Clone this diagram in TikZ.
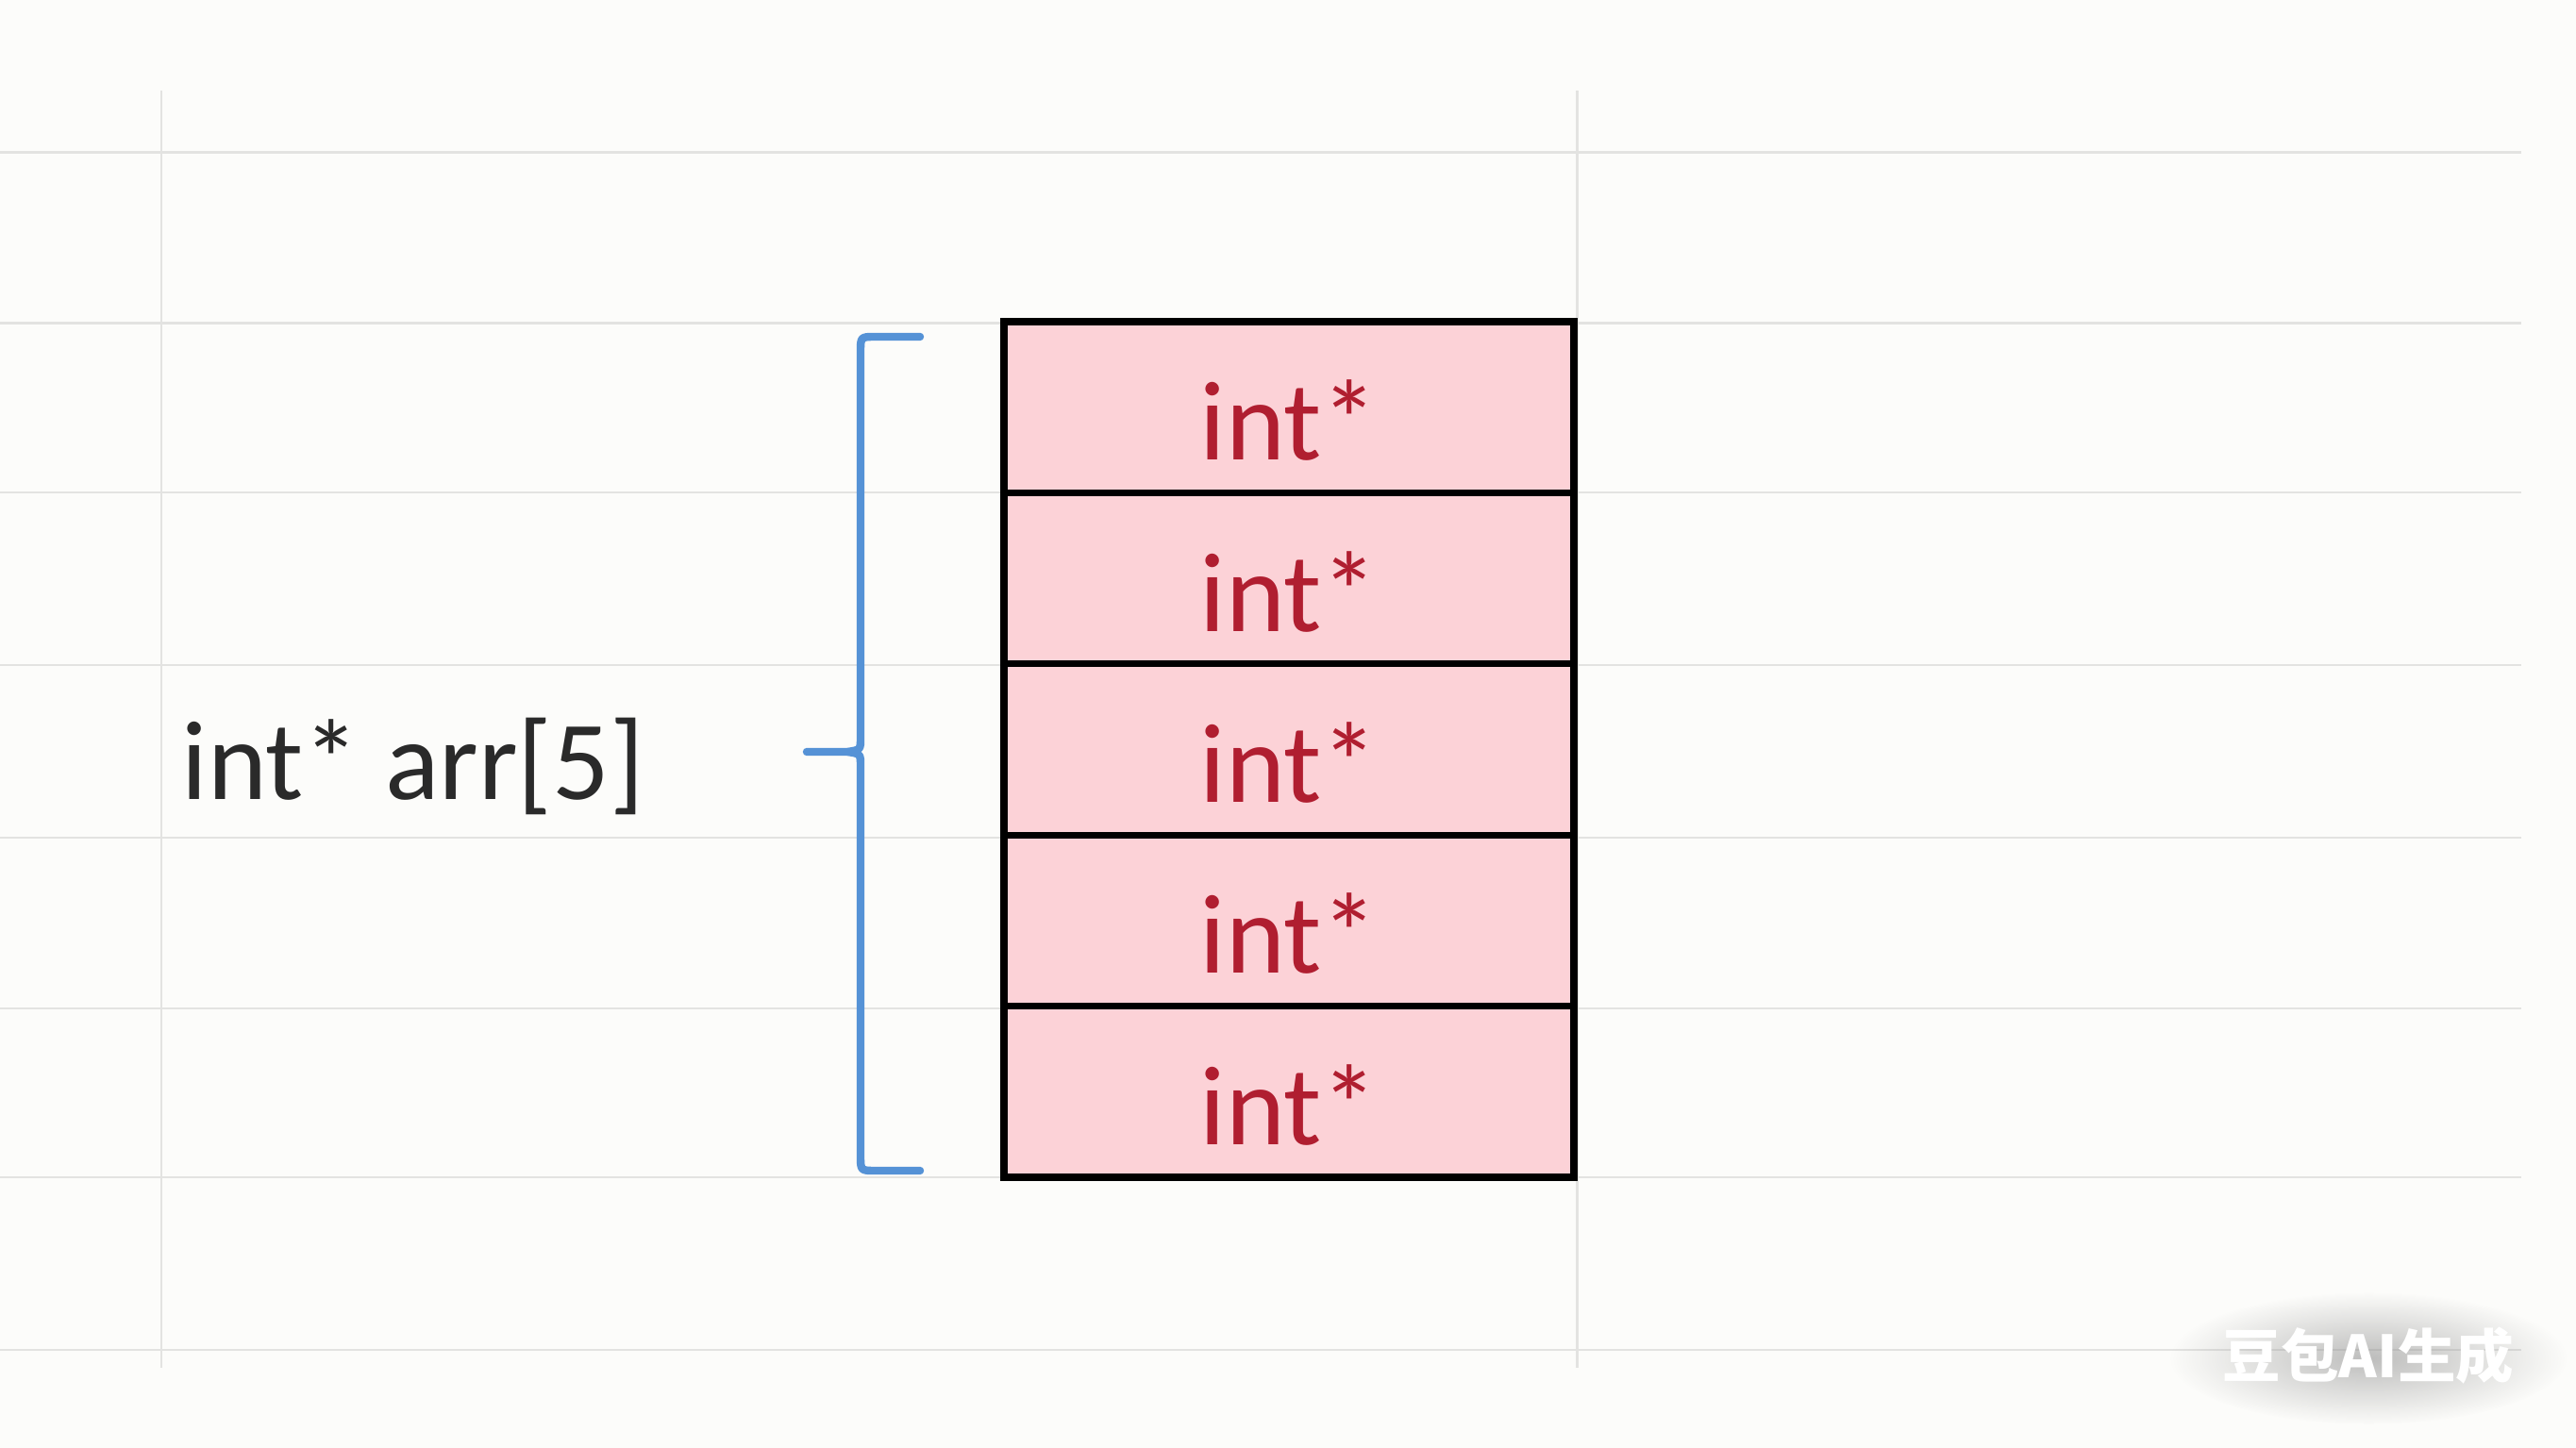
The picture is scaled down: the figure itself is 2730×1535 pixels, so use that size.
\documentclass[tikz,border=0pt]{standalone}
\usepackage{fontspec}
\usetikzlibrary{fadings}
\setmainfont{Carlito}
\newfontfamily\cjkfont{Noto Sans CJK SC}
\definecolor{bg}{HTML}{FCFCFA}
\definecolor{gridgray}{HTML}{E3E3E1}
\definecolor{cellpink}{HTML}{FCD2D7}
\definecolor{celltextred}{HTML}{B01E30}
\definecolor{bracebl}{HTML}{5592D6}
\definecolor{labelgray}{HTML}{2A2A2A}
\definecolor{wmgray}{HTML}{8A8A8A}
\tikzfading[name=wmfade, inner color=transparent!45, outer color=transparent!100]
\begin{document}
\begin{tikzpicture}[x=0.1mm,y=-0.1mm,
  gridline/.style={draw=gridgray, line width=0.85pt},
  cellbox/.style={draw=black, line width=2pt, fill=cellpink, minimum width=60.4mm, minimum height=18.14mm, inner sep=0pt, outer sep=0pt},
  celltext/.style={text=celltextred, font=\fontsize{34pt}{40pt}\selectfont, inner sep=0pt},
  labeltext/.style={text=labelgray, font=\fontsize{34pt}{40pt}\selectfont, inner sep=0pt},
  bracestyle/.style={draw=bracebl, line width=2.4pt, line cap=round, line join=round},
  wmtext/.style={text=white, font=\cjkfont\bfseries\fontsize{17.5pt}{20pt}\selectfont, inner sep=0pt}]
\useasboundingbox (0,0) rectangle (2730,1535);
\fill[bg] (0,0) rectangle (2730,1535);
% grid
\foreach \yy in {162,343,522,705,888,1069,1248,1431}
  \draw[gridline] (0,\yy) -- (2672,\yy);
\foreach \xx in {171,1671}
  \draw[gridline] (\xx,96) -- (\xx,1450);
% cells
\foreach \i/\yc in {1/431.7,2/613.1,3/794.5,4/975.9,5/1157.3}{
  \node[cellbox] (c\i) at (1366,\yc) {};
  \node[celltext, anchor=base] (t\i) at ([yshift=-5.6mm]c\i.center) {int*};
}
% label
\node[labeltext, anchor=base west] (lbl) at (192,848) {int* arr[5]};
% brace
\coordinate (bt) at (975,357);
\coordinate (bb) at (975,1241);
\coordinate (tip) at (855,797);
\draw[bracestyle] (bt) -- (928,357) .. controls (912,357) .. (912,373)
  -- (912,782) .. controls (912,795) .. (898,797) -- (tip)
  -- (898,797) .. controls (912,799) .. (912,812)
  -- (912,1225) .. controls (912,1241) .. (928,1241) -- (bb);
% watermark
\fill[wmgray, path fading=wmfade] (2510,1440) ellipse [x radius=210, y radius=70];
\node[wmtext] (wm) at (2510,1437) {豆包AI生成};
\end{tikzpicture}
\end{document}
